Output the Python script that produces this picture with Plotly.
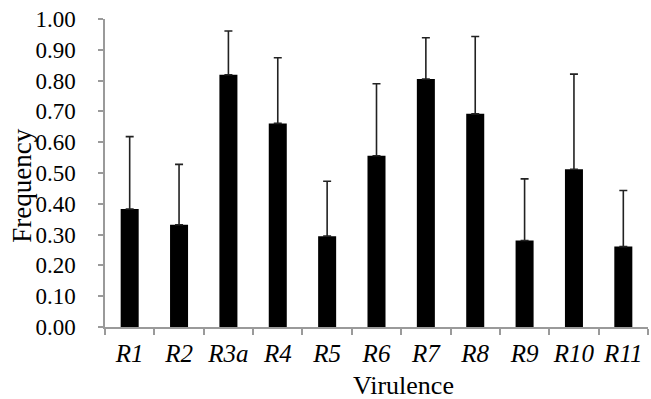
import plotly.graph_objects as go

categories = ["R1", "R2", "R3a", "R4", "R5", "R6", "R7", "R8", "R9", "R10", "R11"]
frequency = [0.383, 0.332, 0.819, 0.661, 0.295, 0.556, 0.805, 0.692, 0.281, 0.512, 0.261]
error_up = [0.235, 0.196, 0.142, 0.213, 0.178, 0.234, 0.134, 0.251, 0.200, 0.309, 0.182]
y_ticks = [0.0, 0.1, 0.2, 0.3, 0.4, 0.5, 0.6, 0.7, 0.8, 0.9, 1.0]
y_ticktext = ["%.2f" % v for v in y_ticks]

FONT = "Liberation Serif"
AX = "#9a9a9a"

fig = go.Figure()
fig.add_trace(go.Bar(
    x=categories, y=frequency, width=0.365,
    marker=dict(color="black", line=dict(color="black", width=0)),
    error_y=dict(type="data", symmetric=False, array=error_up,
                 arrayminus=[0] * len(error_up),
                 color="#222222", thickness=1.6, width=4),
))

fig.update_layout(
    width=651, height=399,
    margin=dict(l=105, r=3, t=19, b=72),
    paper_bgcolor="white", plot_bgcolor="white",
    showlegend=False,
    font=dict(family=FONT, color="black"),
    xaxis=dict(
        showline=True, linecolor=AX, linewidth=1.5,
        ticks="outside", tickson="boundaries", ticklen=6, tickcolor=AX, tickwidth=1.5,
        tickangle=0,
        tickfont=dict(family=FONT, size=25, style="italic", color="black"),
        showgrid=False, zeroline=False, ticklabelstandoff=3,
    ),
    yaxis=dict(
        range=[0, 1], tickvals=y_ticks, ticktext=y_ticktext,
        showline=True, linecolor=AX, linewidth=1.5,
        ticks="outside", ticklen=5, tickcolor=AX, tickwidth=1.5,
        tickfont=dict(family=FONT, size=23, color="black"),
        showgrid=False, zeroline=False, ticklabelstandoff=18,
    ),
    annotations=[
        dict(text="Frequency", xref="paper", yref="paper", x=-0.152, y=0.46,
             textangle=-90, showarrow=False, xanchor="center", yanchor="middle",
             font=dict(family=FONT, size=27, color="black")),
        dict(text="Virulence", xref="paper", yref="paper", x=0.549, y=-0.19,
             showarrow=False, xanchor="center", yanchor="middle",
             font=dict(family=FONT, size=26, color="black")),
    ],
)

fig.write_html("out.html", config={"displayModeBar": False},
               post_script="document.body.style.margin='0';")
